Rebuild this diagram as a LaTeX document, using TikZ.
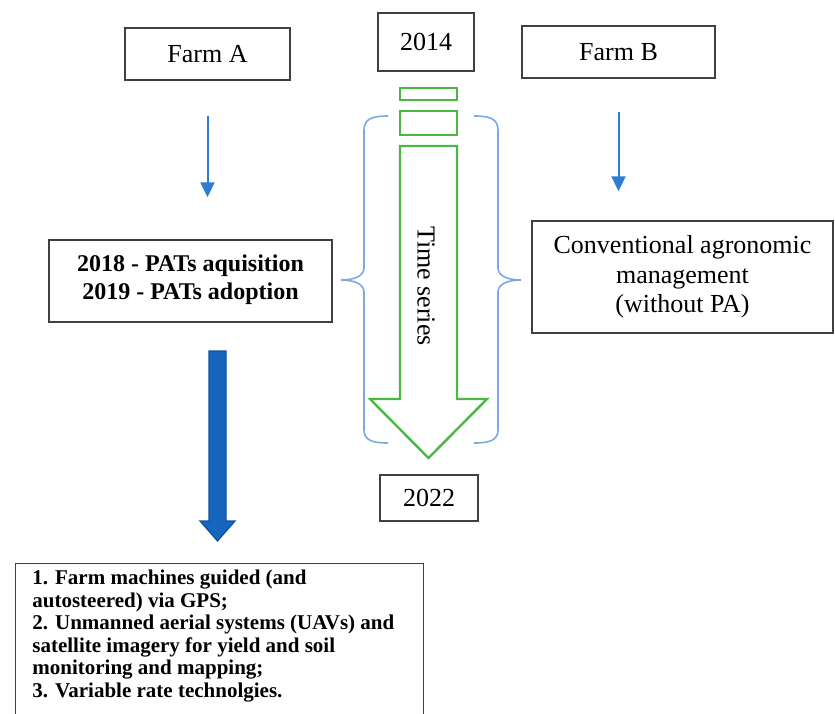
\documentclass[tikz,border=0pt]{standalone}
\usepackage{fontspec}
\setmainfont{Liberation Serif}
\usepackage{xcolor}
\usetikzlibrary{arrows.meta,positioning}
\definecolor{boxgray}{RGB}{64,64,64}
\definecolor{arrowblue}{RGB}{46,125,210}
\definecolor{timegreen}{RGB}{76,184,68}
\definecolor{braceblue}{RGB}{125,168,224}
\definecolor{thickblue}{RGB}{22,102,192}
\definecolor{thickborder}{RGB}{16,80,160}

\begin{document}
\begin{tikzpicture}[x=0.5pt,y=-0.5pt,
  box/.style={draw=boxgray,line width=0.7pt,inner sep=0pt,align=center,font=\fontsize{13}{14.8}\selectfont},
  thinarrow/.style={draw=arrowblue,line width=1pt,-{Triangle[width=7pt,length=7.5pt]}},
  greenline/.style={draw=timegreen,line width=1.2pt},
  brace/.style={draw=braceblue,line width=0.8pt}]
  \path[fill=white,use as bounding box] (0,0) rectangle (835,713);
  \node[box,minimum width=82.5pt,minimum height=26pt] (farmA) at (207.5,54) {Farm A};
  \node[box,minimum width=48pt,minimum height=29pt] (y2014) at (426,42) {2014};
  \node[box,minimum width=96.5pt,minimum height=26pt] (farmB) at (618.5,52) {Farm B};
  \node[box,minimum width=141.5pt,minimum height=41pt,text depth=4pt,font=\bfseries\fontsize{12}{14}\selectfont] (pats) at (190.5,281) {2018 - PATs aquisition\\2019 - PATs adoption};
  \node[box,minimum width=150.5pt,minimum height=56pt] (conv) at (682.5,277) {Conventional agronomic\\management\\(without PA)};
  \node[box,minimum width=49pt,minimum height=23pt] (y2022) at (429,498) {2022};
  \node[box,minimum width=204pt,minimum height=90pt,anchor=north west] (tech) at (15,563) {};
  \node[anchor=north west,align=left,inner sep=0pt,font=\bfseries\fontsize{10.5}{11.25}\selectfont] (techtext) at ([xshift=8.5pt,yshift=-3.5pt]tech.north west) {1. Farm machines guided (and\\autosteered) via GPS;\\2. Unmanned aerial systems (UAVs) and\\satellite imagery for yield and soil\\monitoring and mapping;\\3. Variable rate technolgies.};
  \draw[thinarrow,shorten <=17.5pt,shorten >=21pt] (farmA.south) -- (farmA.south |- pats.north);
  \draw[thinarrow,shorten <=16.5pt,shorten >=14.5pt] (farmB.south) -- (farmB.south |- conv.north);
  % wide arrow down to the technologies
  \draw[fill=thickblue,draw=thickborder,line width=0.6pt] (209,351) -- (226,351) -- (226,521) -- (235,521) -- (217.5,541) -- (200,521) -- (209,521) -- cycle;
  % time series arrow
  \draw[greenline] (400,88) rectangle (457,100);
  \draw[greenline] (400,111) rectangle (457,135);
  \draw[greenline] (400,146) -- (457,146) -- (457,399) -- (487,399) -- (428.5,458) -- (370,399) -- (400,399) -- cycle;
  \node[rotate=-90,font=\fontsize{13}{14.8}\selectfont] (tseries) at (426,286) {Time series};
  \draw[brace] (388,116) .. controls (372,116) and (364,119) .. (364,130) -- (364,268) .. controls (364,277) and (352,280) .. (341,280) .. controls (352,280) and (364,283) .. (364,292) -- (364,430) .. controls (364,440) and (372,443) .. (388,443);
  \draw[brace] (474,116) .. controls (490,116) and (498,119) .. (498,130) -- (498,268) .. controls (498,277) and (510,280) .. (521,280) .. controls (510,280) and (498,283) .. (498,292) -- (498,430) .. controls (498,440) and (490,443) .. (474,443);
\end{tikzpicture}
\end{document}
